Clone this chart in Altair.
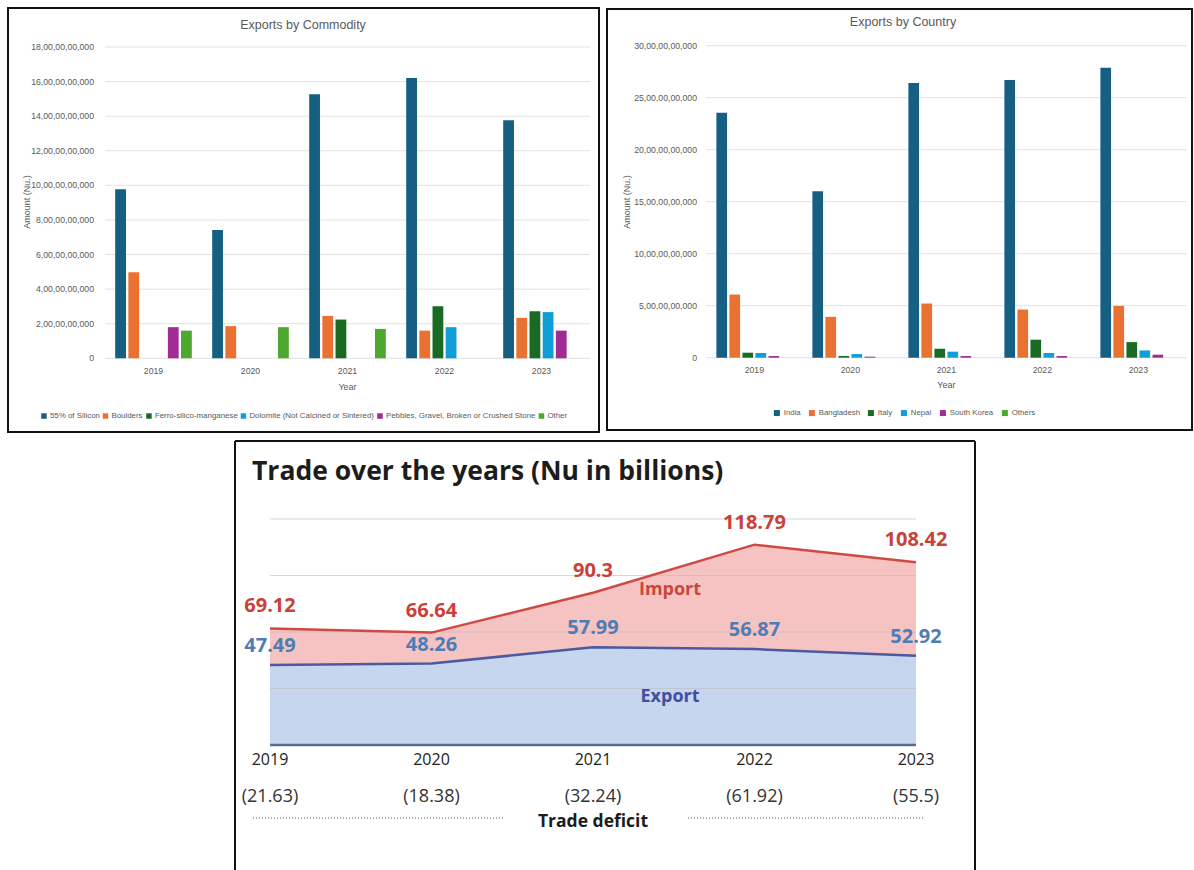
import altair as alt
import pandas as pd

# ---------------------------------------------------------------- data
years = ["2019", "2020", "2021", "2022", "2023"]

# Exports by commodity, Nu. billion (None = nothing exported that year)
commodities = [
    "55% of Silicon",
    "Boulders",
    "Ferro-silico-manganese",
    "Dolomite (Not Calcined or Sintered)",
    "Pebbles, Gravel, Broken or Crushed Stone",
    "Other",
]
silicon = [9.78, 7.42, 15.27, 16.21, 13.77]
boulders = [4.97, 1.86, 2.45, 1.60, 2.34]
ferro = [None, None, 2.24, 3.01, 2.72]
dolomite = [None, None, None, 1.80, 2.67]
pebbles = [1.80, None, None, None, 1.60]
other = [1.60, 1.80, 1.70, None, None]
commodity_ticks = [0, 2, 4, 6, 8, 10, 12, 14, 16, 18]
commodity_colors = ["#156082", "#E97132", "#196B24", "#0F9ED5", "#A02B93", "#4EA72E"]

# Exports by destination country, Nu. billion
countries = ["India", "Bangladesh", "Italy", "Nepal", "South Korea", "Others"]
india = [23.56, 16.00, 26.41, 26.70, 27.88]
bangladesh = [6.07, 3.93, 5.21, 4.63, 4.98]
italy = [0.48, 0.16, 0.86, 1.73, 1.50]
nepal = [0.45, 0.35, 0.58, 0.45, 0.70]
south_korea = [0.16, 0.10, 0.16, 0.16, 0.29]
others = [None, None, None, None, None]
country_ticks = [0, 5, 10, 15, 20, 25, 30]
country_colors = commodity_colors

# Trade totals, Nu. billion
imports = [69.12, 66.64, 90.3, 118.79, 108.42]
exports = [47.49, 48.26, 57.99, 56.87, 52.92]
deficits = [21.63, 18.38, 32.24, 61.92, 55.5]
trade_grid = [33.5, 67, 100.5, 134]

# ---------------------------------------------------------------- styling
OFFICE = "Liberation Sans, Arial, sans-serif"
SANS = "Open Sans, Noto Sans, sans-serif"
GREY = "#595959"
dummy = pd.DataFrame({"k": [0]})


def long_table(names, series_list, key):
    rows = []
    for name, series in zip(names, series_list):
        for year, v in zip(years, series):
            if v is not None:
                rows.append({"Year": year, key: name, "Amount": v * 1e9})
    return pd.DataFrame(rows)


def text_at(text, x, y, **style):
    return alt.Chart(pd.DataFrame({"label": [text]})).mark_text(**style).encode(
        text="label:N", x=alt.value(x), y=alt.value(y)
    )


def box(x0, x1, y0, y1):
    return alt.Chart(dummy).mark_rect(
        filled=False, stroke="#111111", strokeWidth=2
    ).encode(x=alt.value(x0), x2=alt.value(x1), y=alt.value(y0), y2=alt.value(y1))


def bar_panel(df, key, names, colors, ticks, x_range, y_range, frame,
              title, title_xy, ytitle_xy, xtitle_xy, label_right, xlabel_y,
              legend_xy, legend_font, legend_gap, legend_symbol, legend_offset):
    x_scale = alt.Scale(domain=years, range=x_range, paddingInner=0.21, paddingOuter=0.105)
    y_scale = alt.Scale(domain=[0, ticks[-1] * 1e9], range=y_range)
    tick_df = pd.DataFrame({"Amount": [t * 1e9 for t in ticks]})

    grid = alt.Chart(tick_df).mark_rule(color="#e2e2e2", strokeWidth=1).encode(
        y=alt.Y("Amount:Q", scale=y_scale, axis=None),
        x=alt.value(x_range[0]), x2=alt.value(x_range[1]),
    )
    y_labels = alt.Chart(tick_df).transform_calculate(
        label="datum.Amount == 0 ? '0' : format(datum.Amount / 1e9, 'd') + ',00,00,00,000'"
    ).mark_text(align="right", baseline="middle", font=OFFICE, fontSize=8.7,
                color=GREY).encode(
        y=alt.Y("Amount:Q", scale=y_scale, axis=None),
        x=alt.value(label_right), text="label:N",
    )
    x_labels = alt.Chart(pd.DataFrame({"Year": years})).mark_text(
        baseline="middle", font=OFFICE, fontSize=8.7, color=GREY
    ).encode(
        x=alt.X("Year:N", scale=x_scale, axis=None),
        y=alt.value(xlabel_y), text="Year:N",
    )
    bars = alt.Chart(df).mark_bar().encode(
        x=alt.X("Year:N", scale=x_scale, axis=None),
        xOffset=alt.XOffset(f"{key}:N", scale=alt.Scale(domain=names, paddingInner=0.18)),
        y=alt.Y("Amount:Q", scale=y_scale, axis=None),
        color=alt.Color(
            f"{key}:N",
            scale=alt.Scale(domain=names, range=colors),
            legend=alt.Legend(
                orient="none", legendX=legend_xy[0], legendY=legend_xy[1],
                direction="horizontal", columns=6, title=None,
                symbolType="square", symbolSize=legend_symbol, symbolStrokeWidth=0,
                labelFont=OFFICE, labelFontSize=legend_font, labelColor=GREY,
                labelOffset=legend_offset, columnPadding=legend_gap, labelLimit=300,
            ),
        ),
    )
    head = text_at(title, *title_xy, font=OFFICE, fontSize=12.5, color=GREY,
                   align="center", baseline="middle")
    y_title = text_at("Amount (Nu.)", *ytitle_xy, font=OFFICE, fontSize=9, color=GREY,
                      angle=270, align="center", baseline="middle")
    x_title = text_at("Year", *xtitle_xy, font=OFFICE, fontSize=9, color=GREY,
                      align="center", baseline="middle")
    return alt.layer(box(*frame), grid, bars, y_labels, x_labels, head, y_title, x_title)


# ---------------------------------------------------------------- top panels
panel_commodity = bar_panel(
    long_table(commodities, [silicon, boulders, ferro, dolomite, pebbles, other], "Commodity"),
    "Commodity", commodities, commodity_colors, commodity_ticks,
    x_range=[105, 590], y_range=[358.3, 47], frame=(8, 599, 8, 432),
    title="Exports by Commodity", title_xy=(303, 25), ytitle_xy=(27, 202),
    xtitle_xy=(347.5, 387), label_right=94, xlabel_y=371,
    legend_xy=(40, 412), legend_font=7.9, legend_gap=1.5, legend_symbol=30,
    legend_offset=2,
)

panel_country = bar_panel(
    long_table(countries, [india, bangladesh, italy, nepal, south_korea, others], "Country"),
    "Country", countries, country_colors, country_ticks,
    x_range=[706.3, 1186.3], y_range=[357.7, 45.7], frame=(607, 1192, 9, 430),
    title="Exports by Country", title_xy=(903, 22), ytitle_xy=(627, 202),
    xtitle_xy=(946.3, 385), label_right=697, xlabel_y=370,
    legend_xy=(773, 409), legend_font=7.8, legend_gap=7, legend_symbol=36,
    legend_offset=3,
)

# ---------------------------------------------------------------- trade panel
trade_df = pd.DataFrame(
    {"Year": years, "Import": imports, "Export": exports, "Deficit": deficits}
)
x_trade = alt.X("Year:N", scale=alt.Scale(type="point", domain=years, range=[270, 916],
                                          padding=0), axis=None)
y_scale_trade = alt.Scale(domain=[0, 134], range=[745, 519])


def trade_y(field):
    return alt.Y(f"{field}:Q", scale=y_scale_trade, axis=None)


base = alt.Chart(trade_df)
import_area = base.mark_area(color="#f5c3c1").encode(x=x_trade, y=trade_y("Import"))
export_area = base.mark_area(color="#c7d6ef").encode(x=x_trade, y=trade_y("Export"))
grid_trade = alt.Chart(pd.DataFrame({"v": trade_grid})).mark_rule(
    color="#b8b8b8", strokeWidth=1, opacity=0.55
).encode(y=trade_y("v"), x=alt.value(270), x2=alt.value(916))
baseline = alt.Chart(pd.DataFrame({"v": [0]})).mark_rule(
    color="#5b6b8c", strokeWidth=2.5
).encode(y=trade_y("v"), x=alt.value(270), x2=alt.value(916))
import_line = base.mark_line(color="#cf4a44", strokeWidth=2.5).encode(x=x_trade, y=trade_y("Import"))
export_line = base.mark_line(color="#4b5a9e", strokeWidth=2.5).encode(x=x_trade, y=trade_y("Export"))
import_text = base.mark_text(
    dy=-22, font=SANS, fontSize=20, fontWeight="bold", color="#c9413b"
).encode(x=x_trade, y=trade_y("Import"), text="Import:Q")
export_text = base.mark_text(
    dy=-19, font=SANS, fontSize=20, fontWeight="bold", color="#4e7db5"
).encode(x=x_trade, y=trade_y("Export"), text="Export:Q")
year_text = base.mark_text(
    font=SANS, fontSize=16, color="#222222", baseline="middle"
).encode(x=x_trade, y=alt.value(760), text="Year:N")
deficit_text = base.transform_calculate(
    label="'(' + datum.Deficit + ')'"
).mark_text(font=SANS, fontSize=18, color="#333333", baseline="middle").encode(
    x=x_trade, y=alt.value(797), text="label:N"
)

edge = dict(color="#111111", strokeWidth=2)
left_edge = alt.Chart(dummy).mark_rule(**edge).encode(
    x=alt.value(235), y=alt.value(441), y2=alt.value(872))
top_edge = alt.Chart(dummy).mark_rule(**edge).encode(
    x=alt.value(235), x2=alt.value(975), y=alt.value(441))
right_edge = alt.Chart(dummy).mark_rule(**edge).encode(
    x=alt.value(975), y=alt.value(441), y2=alt.value(872))

dots = dict(color="#555555", strokeWidth=1.2, strokeDash=[1, 2])
dots_left = alt.Chart(dummy).mark_rule(**dots).encode(
    x=alt.value(253), x2=alt.value(505), y=alt.value(818))
dots_right = alt.Chart(dummy).mark_rule(**dots).encode(
    x=alt.value(688), x2=alt.value(924), y=alt.value(818))

trade_title = text_at("Trade over the years (Nu in billions)", 252, 472, font=SANS,
                      fontSize=26.5, fontWeight="bold", color="#1c1c1c",
                      align="left", baseline="middle")
import_name = text_at("Import", 670, 590, font=SANS, fontSize=18, fontWeight="bold",
                      color="#c9463f", align="center", baseline="middle")
export_name = text_at("Export", 670, 697, font=SANS, fontSize=18, fontWeight="bold",
                      color="#3f4ea0", align="center", baseline="middle")
deficit_name = text_at("Trade deficit", 593, 822, font=SANS, fontSize=17.5,
                       fontWeight="bold", color="#1c1c1c", align="center",
                       baseline="middle")

panel_trade = alt.layer(
    left_edge, top_edge, right_edge,
    import_area, export_area, grid_trade, baseline, import_line, export_line,
    import_text, export_text, year_text, deficit_text,
    dots_left, dots_right, trade_title, import_name, export_name, deficit_name,
)

# ---------------------------------------------------------------- page
chart = (
    alt.layer(panel_commodity, panel_country, panel_trade)
    .resolve_scale(x="independent", y="independent", color="independent",
                   xOffset="independent")
    .properties(width=1194, height=870, padding=0, background="white",
                autosize=alt.AutoSizeParams(type="none"))
    .configure_view(strokeWidth=0)
)

chart.save("out.html", embed_options={"renderer": "svg", "actions": False})
